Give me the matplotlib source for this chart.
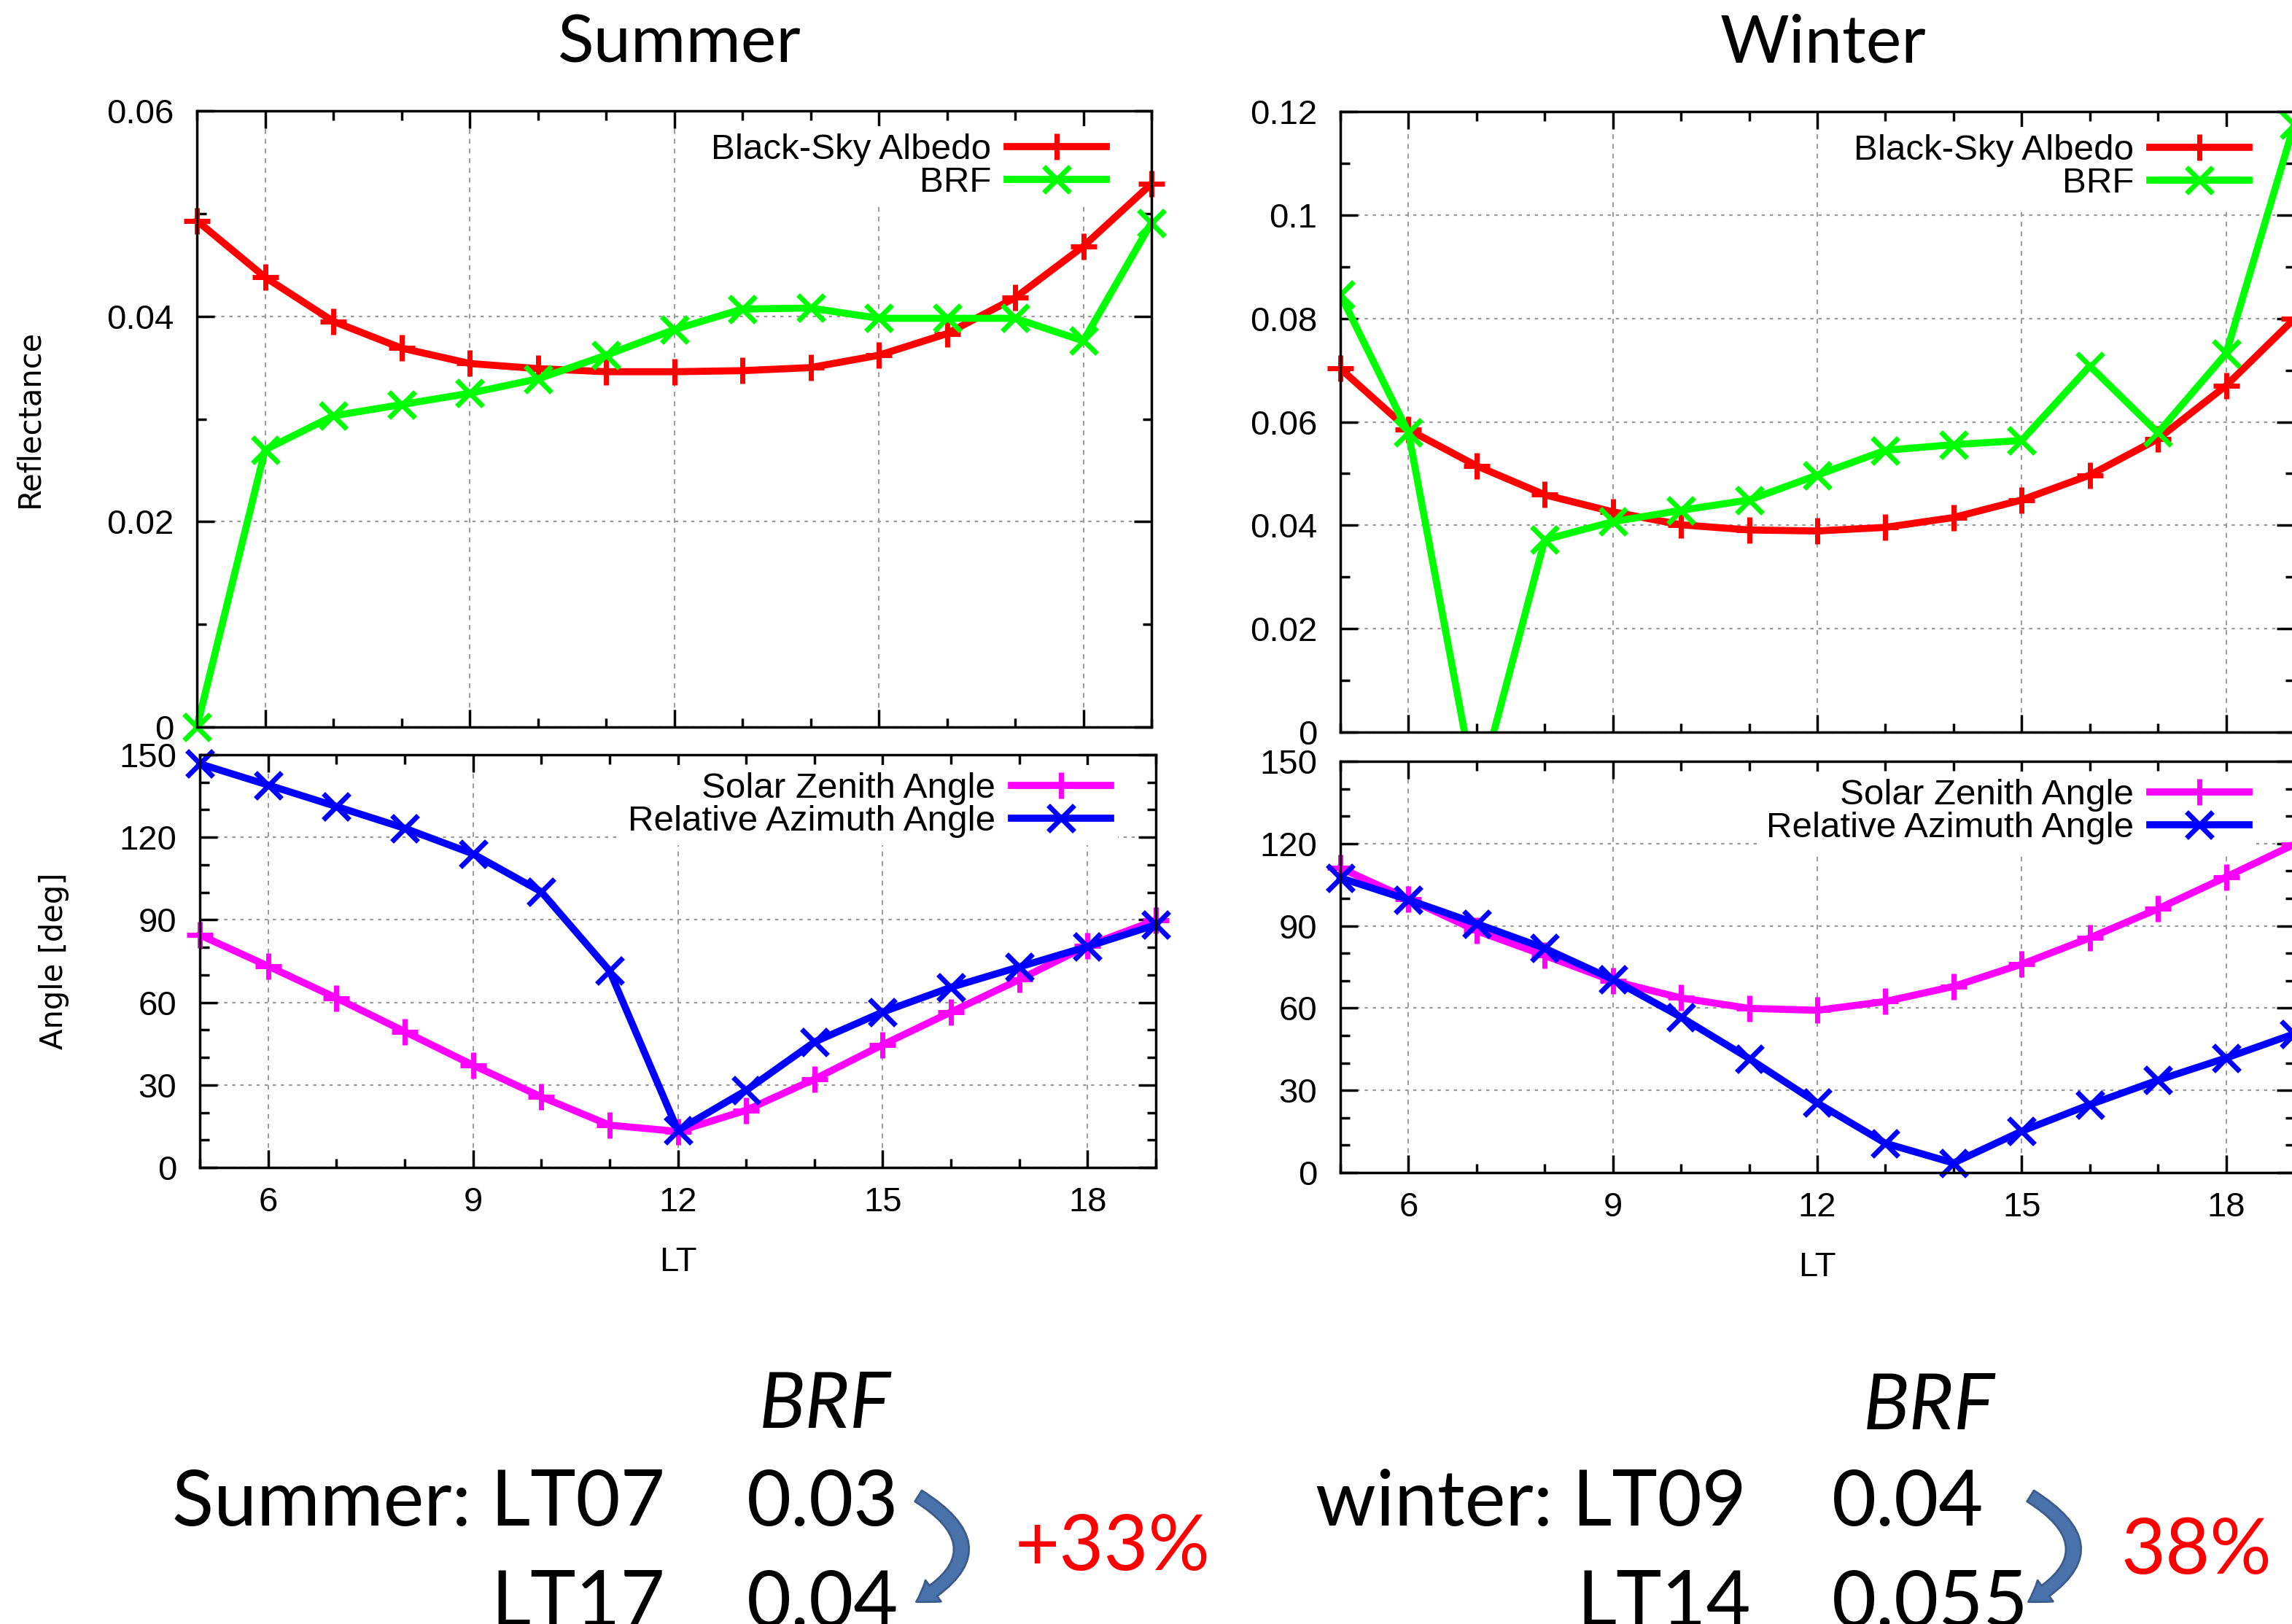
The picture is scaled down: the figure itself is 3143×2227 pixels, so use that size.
import matplotlib
matplotlib.use("Agg")
import matplotlib.pyplot as plt
from matplotlib.ticker import MultipleLocator, FuncFormatter
from matplotlib.patches import FancyArrowPatch

# Local time (LT)
lt = [5, 6, 7, 8, 9, 10, 11, 12, 13, 14, 15, 16, 17, 18, 19]

# Summer
summer_albedo = [0.0493, 0.0438, 0.0395, 0.0369, 0.0354, 0.0349, 0.0346, 0.0346,
                 0.0347, 0.0350, 0.0362, 0.0383, 0.0418, 0.0468, 0.0529]
summer_brf = [0.0, 0.0270, 0.0303, 0.0314, 0.0325, 0.0339, 0.0362, 0.0387,
              0.0407, 0.0408, 0.0398, 0.0398, 0.0398, 0.0376, 0.0491]
summer_sza = [84.5, 73.2, 61.6, 49.4, 37.2, 25.7, 15.4, 13.1, 20.8, 32.1, 44.6, 56.5, 68.3, 80.6, 89.9]
summer_raa = [146.7, 139.0, 131.2, 123.3, 114.0, 100.2, 71.5, 13.5, 28.0, 45.6, 56.5, 65.5, 72.9, 80.3, 88.2]

# Winter
winter_albedo = [0.0703, 0.0585, 0.0515, 0.0459, 0.0426, 0.0401, 0.0391, 0.0389,
                 0.0396, 0.0415, 0.0449, 0.0497, 0.0567, 0.0670, 0.0799]
winter_brf = [0.0846, 0.0579, -0.0125, 0.0372, 0.0407, 0.0429, 0.0449, 0.0497,
              0.0545, 0.0556, 0.0564, 0.0708, 0.0579, 0.0732, 0.1175]
winter_sza = [111.1, 99.8, 88.2, 79.2, 69.9, 63.7, 59.9, 59.2, 62.4, 67.9, 76.0, 85.6, 96.2, 107.8, 119.7]
winter_raa = [107.5, 99.5, 90.8, 81.8, 70.4, 56.7, 41.6, 25.4, 10.7, 3.5, 15.1, 24.8, 33.7, 41.8, 50.6]

plt.rcParams["font.family"] = ["Liberation Sans", "DejaVu Sans"]

W, H = 3143, 2227
fig = plt.figure(figsize=(W / 100, H / 100), dpi=100)


def box(l, t, r, b):
    return [l / W, 1 - b / H, (r - l) / W, (b - t) / H]


def fx(x, y):
    return x / W, 1 - y / H


def style(ax, ymax, ymajor, yminor, show_x):
    ax.set_xlim(5, 19)
    ax.set_ylim(0, ymax)
    ax.xaxis.set_major_locator(MultipleLocator(3))
    ax.xaxis.set_minor_locator(MultipleLocator(1))
    ax.yaxis.set_major_locator(MultipleLocator(ymajor))
    ax.yaxis.set_minor_locator(MultipleLocator(yminor))
    ax.yaxis.set_major_formatter(FuncFormatter(lambda v, p: "%g" % round(v, 4)))
    ax.tick_params(which="both", direction="in", top=True, right=True, width=2.5, labelsize=34)
    ax.tick_params(which="major", length=17)
    ax.tick_params(which="minor", length=9)
    ax.tick_params(axis="y", pad=23)
    ax.tick_params(axis="x", pad=19, labelbottom=show_x)
    for s in ax.spines.values():
        s.set_linewidth(2.5)
    ax.grid(axis="x", which="major", linestyle=(0, (4, 4)), color="#8a8a8a", linewidth=1.2)
    ax.grid(axis="y", which="major", linestyle=(0, (2, 3)), color="#9a9a9a", linewidth=1.6)
    ax.set_axisbelow(True)


def legend(ax):
    ax.legend(loc="upper right", bbox_to_anchor=(0.96, 0.975), markerfirst=False,
              frameon=True, facecolor="white", edgecolor="none", framealpha=1,
              fancybox=False, fontsize=35.5, handlelength=2.75, handletextpad=0.45,
              labelspacing=0.0, borderaxespad=0, borderpad=0.2)


line_kw = dict(linewidth=7, markersize=26, markeredgewidth=5)

# Summer reflectance
ax = fig.add_axes(box(270, 152, 1579, 997))
style(ax, 0.06, 0.02, 0.01, False)
ax.plot(lt, summer_albedo, color="#ff0000", marker="+", label="Black-Sky Albedo", clip_on=False, **line_kw)
ax.plot(lt, summer_brf, color="#00ff00", marker="x", label="BRF", clip_on=False, **line_kw)
legend(ax)

# Summer angles
ax = fig.add_axes(box(274, 1035, 1585, 1601))
style(ax, 150, 30, 10, True)
ax.plot(lt, summer_sza, color="#ff00ff", marker="+", label="Solar Zenith Angle", clip_on=False, **line_kw)
ax.plot(lt, summer_raa, color="#0000ff", marker="x", label="Relative Azimuth Angle", clip_on=False, **line_kw)
legend(ax)
ax.set_xlabel("LT", fontsize=34, labelpad=27)

# Winter reflectance
ax = fig.add_axes(box(1838, 153, 3146, 1004))
style(ax, 0.12, 0.02, 0.01, False)
ax.plot(lt, winter_albedo, color="#ff0000", marker="+", label="Black-Sky Albedo", clip_on=False, **line_kw)
ax.plot(lt, winter_brf, color="#00ff00", marker="x", label="BRF", **line_kw)
legend(ax)

# Winter angles
ax = fig.add_axes(box(1838, 1044, 3146, 1608))
style(ax, 150, 30, 10, True)
ax.plot(lt, winter_sza, color="#ff00ff", marker="+", label="Solar Zenith Angle", clip_on=False, **line_kw)
ax.plot(lt, winter_raa, color="#0000ff", marker="x", label="Relative Azimuth Angle", clip_on=False, **line_kw)
legend(ax)
ax.set_xlabel("LT", fontsize=34, labelpad=27)

# Axis titles
fig.text(*fx(40, 574), "Reflectance", rotation=90, ha="center", va="center",
         fontsize=30, family="DejaVu Sans")
fig.text(*fx(74, 1318), "Angle [deg]", rotation=90, ha="center", va="center",
         fontsize=30, family="DejaVu Sans")
fig.text(*fx(932, 60), "Summer", ha="center", va="center", fontsize=66, family="Lato")
fig.text(*fx(2500, 60), "Winter", ha="center", va="center", fontsize=66, family="Lato")

# BRF comparison notes
big = dict(fontsize=76, family="Lato", va="baseline")
fig.text(*fx(1131, 1958), "BRF", ha="center", style="italic", **big)
fig.text(*fx(912, 2092), "Summer: LT07", ha="right", **big)
fig.text(*fx(1024, 2092), "0.03", ha="left", **big)
fig.text(*fx(912, 2230), "LT17", ha="right", **big)
fig.text(*fx(1024, 2230), "0.04", ha="left", **big)
fig.text(*fx(1526, 2153), "+33%", ha="center", color="#ff0000", **big)

fig.text(*fx(2645, 1960), "BRF", ha="center", style="italic", **big)
fig.text(*fx(2395, 2092), "winter: LT09", ha="right", **big)
fig.text(*fx(2512, 2092), "0.04", ha="left", **big)
fig.text(*fx(2401, 2230), "LT14", ha="right", **big)
fig.text(*fx(2512, 2230), "0.055", ha="left", **big)
fig.text(*fx(3012, 2158), "38%", ha="center", color="#ff0000", **big)

for x0 in (1257, 2782):
    arr = FancyArrowPatch(fx(x0, 2050), fx(x0 - 3, 2198), transform=fig.transFigure,
                          connectionstyle="arc3,rad=-0.85",
                          arrowstyle="simple,head_length=0.5,head_width=0.65,tail_width=0.32",
                          mutation_scale=40, facecolor="#4a72aa", edgecolor="#3b5c8c", linewidth=2)
    fig.patches.append(arr)

fig.savefig("out.png", dpi=100)
